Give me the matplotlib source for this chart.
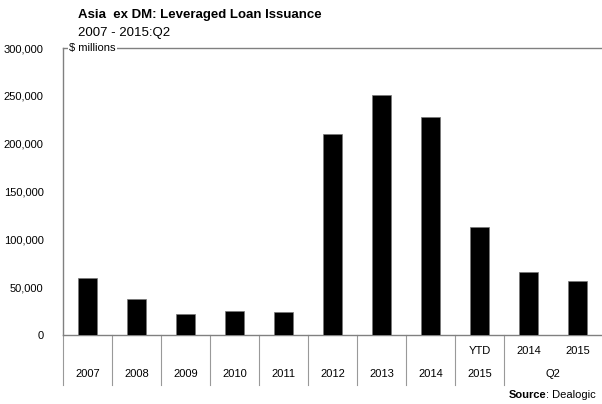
import matplotlib
matplotlib.use("Agg")
import matplotlib.pyplot as plt
from matplotlib.transforms import blended_transform_factory

plt.rcParams['font.family'] = ['Liberation Sans', 'DejaVu Sans']

top_labels = ["", "", "", "", "", "", "", "", "YTD", "2014", "2015"]
bottom_labels = ["2007", "2008", "2009", "2010", "2011", "2012", "2013", "2014", "2015", "", ""]
values = [60000, 38000, 22000, 25500, 24000, 210000, 251000, 228000, 113000, 66000, 56500]
yticks = [0, 50000, 100000, 150000, 200000, 250000, 300000]
group_label = "Q2"

fig = plt.figure(figsize=(6.02, 4.04), dpi=100)
ax = fig.add_axes([63/602, 1 - 335/404, 539/602, 287/404])

x = list(range(len(values)))
ax.bar(x, values, width=0.4, color="black", edgecolor="#777777", linewidth=0.5, zorder=3)
ax.set_xlim(-0.5, len(values) - 0.5)
ax.set_ylim(0, 300000)
ax.set_yticks(yticks)
ax.set_yticklabels([f"{v:,}" for v in yticks], fontsize=8)
ax.tick_params(axis='y', length=0, pad=14)
ax.tick_params(axis='x', length=0, labelbottom=False)

ax.spines["right"].set_visible(False)
for s in ["left", "top", "bottom"]:
    ax.spines[s].set_color("#808080")
    ax.spines[s].set_linewidth(1.0)

ax.text(0.012, 1.0, "$ millions", transform=ax.transAxes, fontsize=8,
        va="center", ha="left", bbox=dict(facecolor="white", edgecolor="none", pad=1.0), zorder=5)

tr = blended_transform_factory(ax.transData, ax.transAxes)
for s in [i - 0.5 for i in range(10)]:
    ax.plot([s, s], [0, -0.175], transform=tr, color="#999999", lw=0.8, clip_on=False)

for i in x:
    if top_labels[i]:
        ax.text(i, -0.055, top_labels[i], transform=tr, ha="center", va="center", fontsize=8)
    if bottom_labels[i]:
        ax.text(i, -0.135, bottom_labels[i], transform=tr, ha="center", va="center", fontsize=8)
ax.text(9.5, -0.135, group_label, transform=tr, ha="center", va="center", fontsize=8)

fig.text(78/602, 1 - 15/404, "Asia  ex DM: Leveraged Loan Issuance", fontsize=9.5, fontweight="bold",
         ha="left", va="center")
fig.text(78/602, 1 - 33/404, "2007 - 2015:Q2", fontsize=9.5, ha="left", va="center")

t2 = fig.text(596/602, 1 - 395/404, ": Dealogic", fontsize=8, ha="right", va="center")
fig.canvas.draw()
bb = t2.get_window_extent()
fig.text(bb.x0 / fig.bbox.width, 1 - 395/404, "Source", fontsize=8, fontweight="bold",
         ha="right", va="center")

fig.savefig("out.png", dpi=100)
